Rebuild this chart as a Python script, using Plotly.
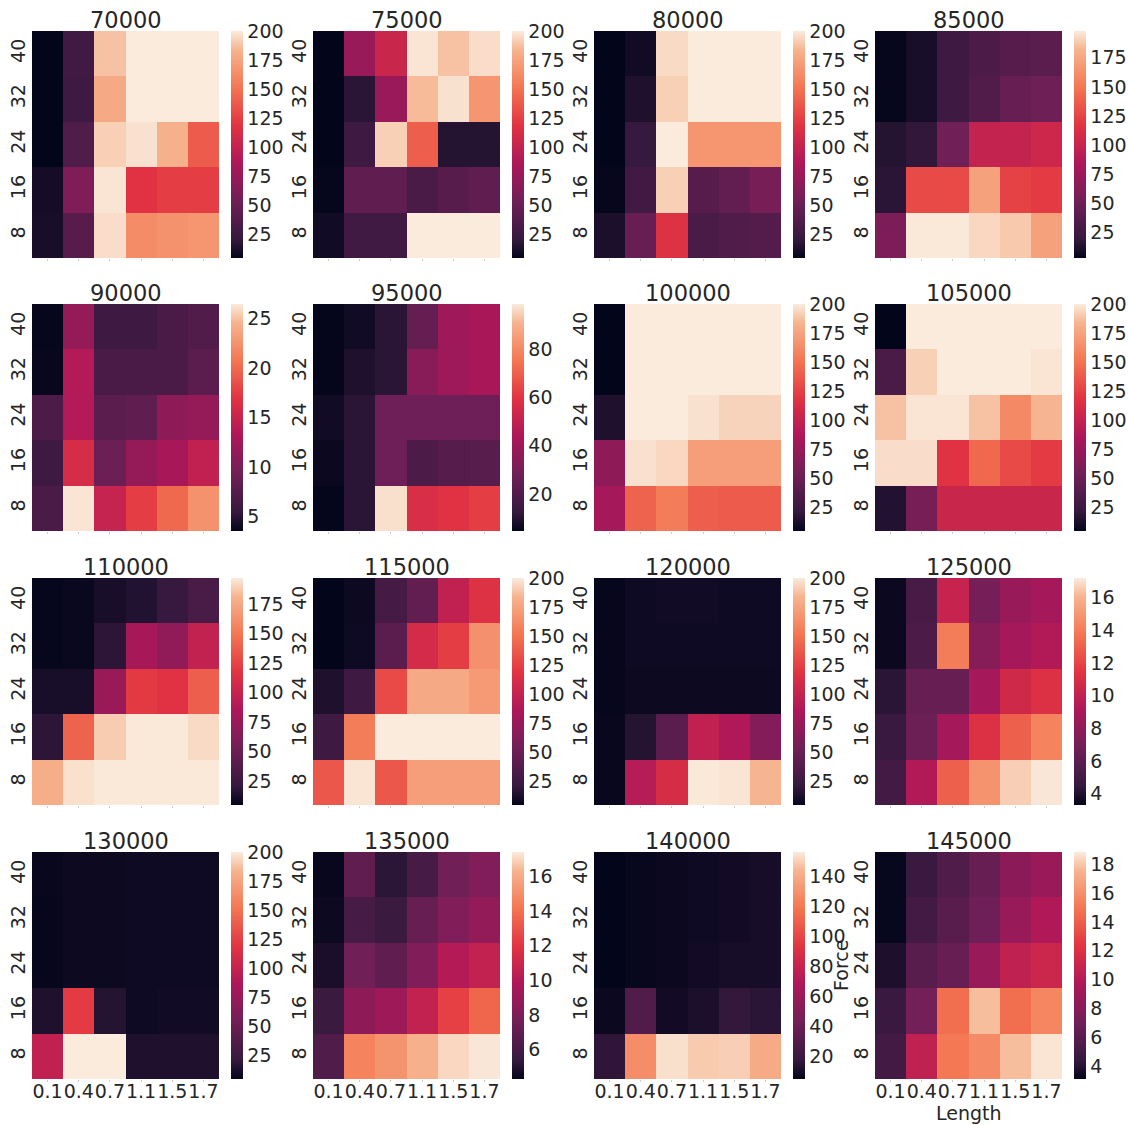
import plotly.graph_objects as go

lengths = ["0.1", "0.4", "0.7", "1.1", "1.5", "1.7"]
forces = ["40", "32", "24", "16", "8"]
speeds = [70000, 75000, 80000, 85000, 90000, 95000, 100000, 105000,
          110000, 115000, 120000, 125000, 130000, 135000, 140000, 145000]

grid_70000 = [[5, 28, 188, 200, 200, 200], [5, 26, 178, 200, 200, 200], [5, 36, 192, 197, 182, 138],
              [11, 62, 198, 118, 124, 124], [12, 40, 196, 163, 166, 168]]
grid_75000 = [[5, 75, 104, 198, 188, 196], [5, 18, 75, 186, 197, 168], [5, 26, 192, 140, 16, 16],
              [6, 45, 45, 32, 40, 45], [10, 28, 28, 200, 200, 200]]
grid_80000 = [[5, 10, 195, 200, 200, 200], [5, 14, 192, 200, 200, 200], [5, 22, 200, 168, 168, 168],
              [6, 28, 192, 40, 46, 58], [13, 48, 116, 33, 36, 38]]
grid_85000 = [[4, 10, 24, 32, 38, 40], [4, 10, 24, 35, 46, 50], [14, 18, 52, 98, 98, 104],
              [16, 128, 128, 172, 124, 120], [58, 197, 197, 192, 188, 172]]
grid_90000 = [[3.6, 11.5, 6, 6, 6.8, 7.2], [3.7, 13.5, 6.8, 6.8, 6.8, 7.8], [7, 13.5, 7.8, 8.2, 11, 11.5],
              [6, 16, 9, 11.5, 12.8, 14.5], [6.8, 26.3, 14.8, 17.5, 20, 22.5]]
grid_95000 = [[5, 7, 11, 25, 40, 43], [5, 9, 11, 34, 40, 43], [7, 11, 28, 28, 28, 28],
              [6, 11, 28, 19, 21, 22], [5, 11, 97, 57, 59, 62]]
grid_100000 = [[5, 200, 200, 200, 200, 200], [5, 200, 200, 200, 200, 200], [14, 200, 200, 197, 193, 193],
               [70, 197, 194, 172, 172, 172], [82, 142, 155, 140, 138, 138]]
grid_105000 = [[5, 200, 200, 200, 200, 200], [32, 192, 200, 200, 200, 198], [188, 198, 198, 188, 162, 184],
               [196, 196, 118, 145, 130, 122], [15, 58, 104, 104, 104, 104]]
grid_110000 = [[6, 7, 12, 15, 22, 32], [6, 7, 18, 82, 70, 98], [12, 12, 75, 120, 116, 138],
               [18, 140, 188, 196, 196, 192], [178, 194, 196, 196, 196, 196]]
grid_115000 = [[5, 8, 30, 46, 98, 116], [5, 9, 42, 110, 124, 165], [14, 26, 130, 178, 178, 170],
               [26, 155, 200, 200, 200, 200], [136, 198, 136, 172, 172, 172]]
grid_120000 = [[6, 9, 10, 10, 9, 9], [6, 9, 9, 9, 9, 9], [6, 8, 8, 8, 8, 8],
               [7, 16, 42, 98, 88, 64], [7, 92, 112, 199, 198, 184]]
grid_125000 = [[3.5, 5.2, 10.2, 7, 8.3, 8.8], [3.5, 5.4, 14, 7.6, 8.8, 9.3], [4.2, 6.4, 6.4, 8.8, 10.6, 11.2],
               [4.6, 6.6, 8.8, 11.2, 13, 14.2], [5, 9.3, 13, 14.8, 16.6, 17.1]]
grid_130000 = [[7, 8, 8, 9, 9, 9], [6, 8, 8, 9, 9, 9], [6, 8, 8, 9, 9, 9],
               [14, 122, 16, 9, 10, 10], [98, 200, 200, 14, 14, 14]]
grid_135000 = [[4.4, 7, 5.2, 6, 7.6, 8.2], [4.5, 6, 5.6, 7.2, 8.2, 8.8], [4.8, 7.6, 7, 8.2, 10, 10.6],
               [5.6, 8.6, 9.2, 10.6, 12.4, 13.6], [6.4, 14.6, 15.2, 16.2, 17, 17.3]]
grid_140000 = [[5, 6, 7, 8, 9, 10], [5, 6, 7, 8, 9, 10], [5, 6, 7, 9, 10, 10],
               [7, 30, 9, 11, 17, 15], [16, 128, 154, 149, 150, 140]]
grid_145000 = [[3.2, 4.6, 5.6, 6.6, 8.2, 8.8], [3.2, 5, 6, 7, 8.8, 9.8], [3.8, 6, 6.6, 8.8, 10.6, 11.2],
               [4.6, 7.2, 14.6, 17.8, 14.6, 15.6], [5, 10.6, 15, 15.8, 17.8, 18.7]]

grids = [grid_70000, grid_75000, grid_80000, grid_85000, grid_90000, grid_95000, grid_100000, grid_105000,
         grid_110000, grid_115000, grid_120000, grid_125000, grid_130000, grid_135000, grid_140000, grid_145000]

color_min = [5, 5, 5, 3, 3.5, 4.7, 5, 5, 5, 5, 5, 3.3, 5, 4.3, 5, 3.1]
color_max = [200, 200, 200, 198, 26.5, 98.6, 200, 200, 197, 200, 200, 17.2, 200, 17.4, 156.5, 18.86]
color_step = [25, 25, 25, 25, 5, 20, 25, 25, 25, 25, 25, 2, 25, 2, 20, 2]

# seaborn rocket
rocket = [[0.0, "#03051a"], [0.083, "#35193e"], [0.25, "#701f57"], [0.417, "#ad1759"],
          [0.583, "#e13342"], [0.75, "#f37651"], [0.917, "#f6b48f"], [1.0, "#faebdd"]]

W, H = 1128, 1125
lefts = [32, 313, 594, 875]
tops = [31, 304, 578, 852]
pw, ph = 187, 227
ink = "#262626"
tick_font = dict(size=19, color=ink, family="DejaVu Sans")

fig = go.Figure()
annotations = []
layout = {}
for i, speed in enumerate(speeds):
    row, col = i // 4, i % 4
    n = i + 1
    x0 = lefts[col] / W
    x1 = (lefts[col] + pw) / W
    y1 = 1 - tops[row] / H
    y0 = 1 - (tops[row] + ph) / H
    fig.add_trace(go.Heatmap(
        z=grids[i], x=lengths, y=forces, xaxis=f"x{n}", yaxis=f"y{n}",
        colorscale=rocket, zmin=color_min[i], zmax=color_max[i],
        colorbar=dict(x=(lefts[col] + pw + 12) / W, xanchor="left", xpad=0, ypad=0,
                      y=y1, yanchor="top", len=ph / H, lenmode="fraction",
                      thickness=12, thicknessmode="pixels", outlinewidth=0,
                      tick0=0, dtick=color_step[i], ticks="", tickfont=tick_font),
    ))
    layout[f"xaxis{n}"] = dict(
        domain=[x0, x1], anchor=f"y{n}", type="category", showgrid=False, zeroline=False,
        ticks="outside", ticklen=2, tickcolor="#cccccc", tickangle=0, ticklabelstandoff=-7,
        showticklabels=row == 3, tickfont=tick_font,
    )
    layout[f"yaxis{n}"] = dict(
        domain=[y0, y1], anchor=f"x{n}", type="category", autorange="reversed",
        showgrid=False, zeroline=False, ticks="", tickangle=-90, ticklen=0, ticklabelstandoff=2,
        tickfont=tick_font,
    )
    annotations.append(dict(text=str(speed), x=(x0 + x1) / 2, y=y1, xref="paper", yref="paper",
                            xanchor="center", yanchor="bottom", yshift=-4, showarrow=False,
                            font=dict(size=22.5, color=ink, family="DejaVu Sans")))

annotations.append(dict(text="Length", x=(lefts[3] + pw / 2) / W, y=1 - 1113 / H, xref="paper", yref="paper",
                        xanchor="center", yanchor="middle", showarrow=False,
                        font=dict(size=19, color=ink, family="DejaVu Sans")))
annotations.append(dict(text="Force", x=841 / W, y=1 - 966 / H, xref="paper", yref="paper", textangle=-90,
                        xanchor="center", yanchor="middle", showarrow=False,
                        font=dict(size=19, color=ink, family="DejaVu Sans")))

fig.update_layout(width=W, height=H, margin=dict(l=0, r=0, t=0, b=0), paper_bgcolor="white",
                  plot_bgcolor="white", annotations=annotations, **layout)
# drop the page's default body margin so the figure fills the window
fig.write_html("out.html", config={"displayModeBar": False},
               post_script="document.body.style.margin='0';document.body.style.overflow='hidden';")
